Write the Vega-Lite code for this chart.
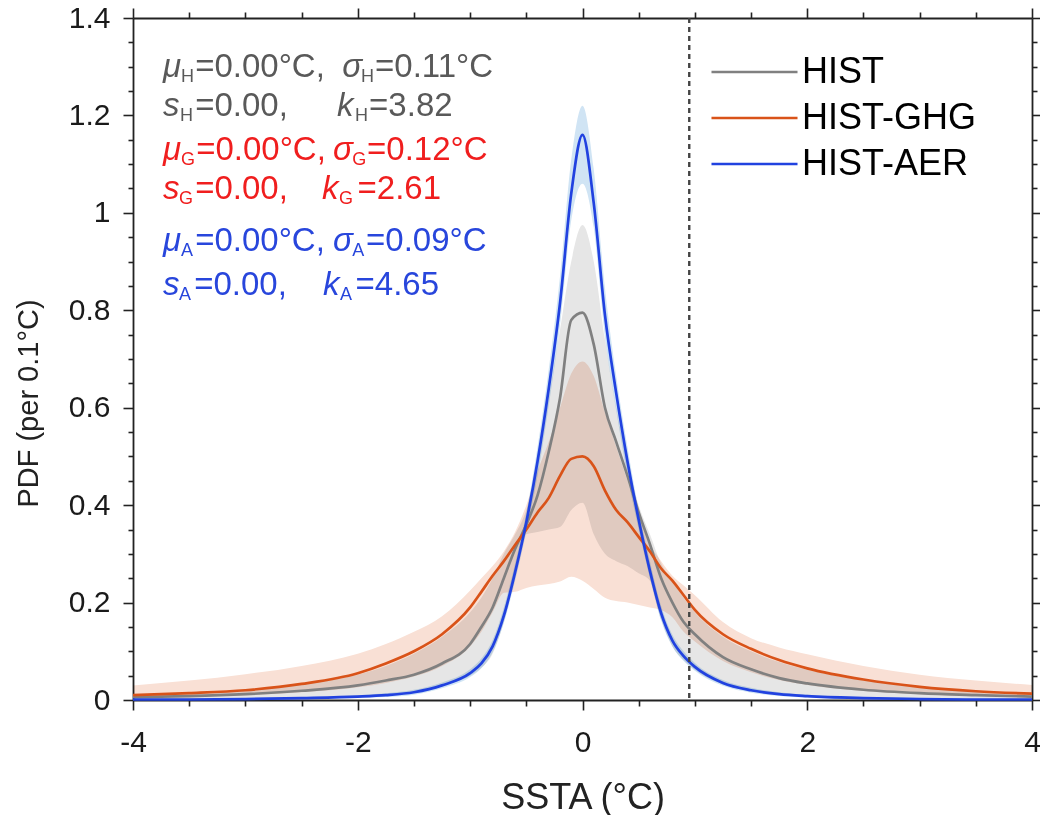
{
  "$schema": "https://vega.github.io/schema/vega-lite/v6.json",
  "width": 899,
  "height": 682,
  "autosize": {"type": "none"},
  "padding": {"left": 133, "top": 18, "right": 8, "bottom": 115},
  "config": {
    "view": {"stroke": null},
    "font": "Liberation Sans",
    "axis": {
      "grid": false,
      "domainColor": "#222222",
      "domainWidth": 1.8,
      "tickColor": "#222222",
      "tickWidth": 1.6,
      "labelFont": "Liberation Sans",
      "titleFont": "Liberation Sans",
      "labelColor": "#1a1a1a",
      "titleColor": "#222222",
      "titleFontWeight": "normal",
      "labelOverlap": false,
      "labelFlush": false
    }
  },
  "datasets": {
    "pdf": [
      {"x":-4,"s":"HIST","y":0.006,"lo":0.001,"hi":0.010},
      {"x":-3.5,"s":"HIST","y":0.008,"lo":0.002,"hi":0.014},
      {"x":-3,"s":"HIST","y":0.012,"lo":0.003,"hi":0.020},
      {"x":-2.5,"s":"HIST","y":0.019,"lo":0.005,"hi":0.032},
      {"x":-2,"s":"HIST","y":0.030,"lo":0.008,"hi":0.052},
      {"x":-1.75,"s":"HIST","y":0.040,"lo":0.012,"hi":0.070},
      {"x":-1.5,"s":"HIST","y":0.052,"lo":0.018,"hi":0.095},
      {"x":-1.25,"s":"HIST","y":0.075,"lo":0.030,"hi":0.130},
      {"x":-1,"s":"HIST","y":0.115,"lo":0.050,"hi":0.180},
      {"x":-0.9,"s":"HIST","y":0.150,"lo":0.066,"hi":0.210},
      {"x":-0.8,"s":"HIST","y":0.190,"lo":0.095,"hi":0.250},
      {"x":-0.7,"s":"HIST","y":0.250,"lo":0.160,"hi":0.300},
      {"x":-0.6,"s":"HIST","y":0.310,"lo":0.255,"hi":0.340},
      {"x":-0.5,"s":"HIST","y":0.360,"lo":0.340,"hi":0.390},
      {"x":-0.4,"s":"HIST","y":0.420,"lo":0.345,"hi":0.480},
      {"x":-0.3,"s":"HIST","y":0.510,"lo":0.350,"hi":0.620},
      {"x":-0.2,"s":"HIST","y":0.620,"lo":0.355,"hi":0.760},
      {"x":-0.1,"s":"HIST","y":0.780,"lo":0.390,"hi":0.900},
      {"x":0,"s":"HIST","y":0.795,"lo":0.405,"hi":0.975},
      {"x":0.1,"s":"HIST","y":0.730,"lo":0.340,"hi":0.900},
      {"x":0.2,"s":"HIST","y":0.600,"lo":0.300,"hi":0.740},
      {"x":0.3,"s":"HIST","y":0.530,"lo":0.285,"hi":0.600},
      {"x":0.4,"s":"HIST","y":0.460,"lo":0.275,"hi":0.490},
      {"x":0.5,"s":"HIST","y":0.385,"lo":0.260,"hi":0.400},
      {"x":0.6,"s":"HIST","y":0.320,"lo":0.245,"hi":0.340},
      {"x":0.7,"s":"HIST","y":0.250,"lo":0.165,"hi":0.280},
      {"x":0.8,"s":"HIST","y":0.200,"lo":0.110,"hi":0.245},
      {"x":0.9,"s":"HIST","y":0.160,"lo":0.082,"hi":0.210},
      {"x":1,"s":"HIST","y":0.135,"lo":0.062,"hi":0.180},
      {"x":1.25,"s":"HIST","y":0.088,"lo":0.032,"hi":0.130},
      {"x":1.5,"s":"HIST","y":0.063,"lo":0.018,"hi":0.100},
      {"x":1.75,"s":"HIST","y":0.045,"lo":0.011,"hi":0.078},
      {"x":2,"s":"HIST","y":0.034,"lo":0.007,"hi":0.062},
      {"x":2.5,"s":"HIST","y":0.021,"lo":0.004,"hi":0.040},
      {"x":3,"s":"HIST","y":0.014,"lo":0.002,"hi":0.026},
      {"x":3.5,"s":"HIST","y":0.010,"lo":0.001,"hi":0.018},
      {"x":4,"s":"HIST","y":0.007,"lo":0.001,"hi":0.013},

      {"x":-4,"s":"HIST-GHG","y":0.010,"lo":0.005,"hi":0.030},
      {"x":-3.5,"s":"HIST-GHG","y":0.014,"lo":0.007,"hi":0.040},
      {"x":-3,"s":"HIST-GHG","y":0.020,"lo":0.010,"hi":0.053},
      {"x":-2.5,"s":"HIST-GHG","y":0.033,"lo":0.016,"hi":0.070},
      {"x":-2,"s":"HIST-GHG","y":0.055,"lo":0.026,"hi":0.095},
      {"x":-1.75,"s":"HIST-GHG","y":0.075,"lo":0.035,"hi":0.115},
      {"x":-1.5,"s":"HIST-GHG","y":0.100,"lo":0.048,"hi":0.140},
      {"x":-1.25,"s":"HIST-GHG","y":0.135,"lo":0.070,"hi":0.172},
      {"x":-1,"s":"HIST-GHG","y":0.190,"lo":0.110,"hi":0.225},
      {"x":-0.9,"s":"HIST-GHG","y":0.222,"lo":0.140,"hi":0.250},
      {"x":-0.8,"s":"HIST-GHG","y":0.255,"lo":0.180,"hi":0.275},
      {"x":-0.7,"s":"HIST-GHG","y":0.285,"lo":0.220,"hi":0.305},
      {"x":-0.6,"s":"HIST-GHG","y":0.318,"lo":0.222,"hi":0.345},
      {"x":-0.5,"s":"HIST-GHG","y":0.350,"lo":0.230,"hi":0.400},
      {"x":-0.4,"s":"HIST-GHG","y":0.385,"lo":0.235,"hi":0.470},
      {"x":-0.3,"s":"HIST-GHG","y":0.415,"lo":0.238,"hi":0.530},
      {"x":-0.2,"s":"HIST-GHG","y":0.460,"lo":0.243,"hi":0.600},
      {"x":-0.1,"s":"HIST-GHG","y":0.495,"lo":0.253,"hi":0.670},
      {"x":0,"s":"HIST-GHG","y":0.500,"lo":0.245,"hi":0.695},
      {"x":0.1,"s":"HIST-GHG","y":0.480,"lo":0.228,"hi":0.665},
      {"x":0.2,"s":"HIST-GHG","y":0.430,"lo":0.210,"hi":0.590},
      {"x":0.3,"s":"HIST-GHG","y":0.390,"lo":0.203,"hi":0.520},
      {"x":0.4,"s":"HIST-GHG","y":0.365,"lo":0.200,"hi":0.450},
      {"x":0.5,"s":"HIST-GHG","y":0.335,"lo":0.195,"hi":0.380},
      {"x":0.6,"s":"HIST-GHG","y":0.305,"lo":0.190,"hi":0.320},
      {"x":0.7,"s":"HIST-GHG","y":0.270,"lo":0.185,"hi":0.285},
      {"x":0.8,"s":"HIST-GHG","y":0.245,"lo":0.170,"hi":0.255},
      {"x":0.9,"s":"HIST-GHG","y":0.215,"lo":0.140,"hi":0.235},
      {"x":1,"s":"HIST-GHG","y":0.185,"lo":0.120,"hi":0.215},
      {"x":1.25,"s":"HIST-GHG","y":0.135,"lo":0.080,"hi":0.160},
      {"x":1.5,"s":"HIST-GHG","y":0.105,"lo":0.057,"hi":0.127},
      {"x":1.75,"s":"HIST-GHG","y":0.082,"lo":0.041,"hi":0.108},
      {"x":2,"s":"HIST-GHG","y":0.065,"lo":0.031,"hi":0.094},
      {"x":2.5,"s":"HIST-GHG","y":0.042,"lo":0.019,"hi":0.070},
      {"x":3,"s":"HIST-GHG","y":0.027,"lo":0.012,"hi":0.052},
      {"x":3.5,"s":"HIST-GHG","y":0.018,"lo":0.008,"hi":0.040},
      {"x":4,"s":"HIST-GHG","y":0.013,"lo":0.006,"hi":0.031},

      {"x":-4,"s":"HIST-AER","y":0.001,"lo":0.000,"hi":0.002},
      {"x":-3.5,"s":"HIST-AER","y":0.001,"lo":0.000,"hi":0.003},
      {"x":-3,"s":"HIST-AER","y":0.002,"lo":0.001,"hi":0.004},
      {"x":-2.5,"s":"HIST-AER","y":0.004,"lo":0.002,"hi":0.006},
      {"x":-2,"s":"HIST-AER","y":0.007,"lo":0.004,"hi":0.010},
      {"x":-1.75,"s":"HIST-AER","y":0.010,"lo":0.006,"hi":0.014},
      {"x":-1.5,"s":"HIST-AER","y":0.016,"lo":0.011,"hi":0.021},
      {"x":-1.25,"s":"HIST-AER","y":0.030,"lo":0.024,"hi":0.036},
      {"x":-1,"s":"HIST-AER","y":0.055,"lo":0.047,"hi":0.063},
      {"x":-0.9,"s":"HIST-AER","y":0.075,"lo":0.065,"hi":0.085},
      {"x":-0.8,"s":"HIST-AER","y":0.110,"lo":0.098,"hi":0.123},
      {"x":-0.7,"s":"HIST-AER","y":0.173,"lo":0.158,"hi":0.190},
      {"x":-0.6,"s":"HIST-AER","y":0.262,"lo":0.245,"hi":0.280},
      {"x":-0.5,"s":"HIST-AER","y":0.365,"lo":0.345,"hi":0.385},
      {"x":-0.4,"s":"HIST-AER","y":0.490,"lo":0.460,"hi":0.520},
      {"x":-0.3,"s":"HIST-AER","y":0.640,"lo":0.605,"hi":0.680},
      {"x":-0.2,"s":"HIST-AER","y":0.815,"lo":0.770,"hi":0.870},
      {"x":-0.1,"s":"HIST-AER","y":1.040,"lo":0.985,"hi":1.110},
      {"x":0,"s":"HIST-AER","y":1.160,"lo":1.060,"hi":1.220},
      {"x":0.1,"s":"HIST-AER","y":1.020,"lo":0.970,"hi":1.090},
      {"x":0.2,"s":"HIST-AER","y":0.790,"lo":0.745,"hi":0.845},
      {"x":0.3,"s":"HIST-AER","y":0.630,"lo":0.595,"hi":0.665},
      {"x":0.4,"s":"HIST-AER","y":0.490,"lo":0.460,"hi":0.520},
      {"x":0.5,"s":"HIST-AER","y":0.370,"lo":0.350,"hi":0.390},
      {"x":0.6,"s":"HIST-AER","y":0.265,"lo":0.250,"hi":0.285},
      {"x":0.7,"s":"HIST-AER","y":0.178,"lo":0.163,"hi":0.193},
      {"x":0.8,"s":"HIST-AER","y":0.122,"lo":0.110,"hi":0.134},
      {"x":0.9,"s":"HIST-AER","y":0.090,"lo":0.080,"hi":0.100},
      {"x":1,"s":"HIST-AER","y":0.068,"lo":0.060,"hi":0.076},
      {"x":1.25,"s":"HIST-AER","y":0.035,"lo":0.029,"hi":0.041},
      {"x":1.5,"s":"HIST-AER","y":0.020,"lo":0.015,"hi":0.025},
      {"x":1.75,"s":"HIST-AER","y":0.012,"lo":0.008,"hi":0.016},
      {"x":2,"s":"HIST-AER","y":0.008,"lo":0.005,"hi":0.011},
      {"x":2.5,"s":"HIST-AER","y":0.004,"lo":0.002,"hi":0.006},
      {"x":3,"s":"HIST-AER","y":0.002,"lo":0.001,"hi":0.004},
      {"x":3.5,"s":"HIST-AER","y":0.001,"lo":0.000,"hi":0.002},
      {"x":4,"s":"HIST-AER","y":0.001,"lo":0.000,"hi":0.002}
    ],
    "ann": [
      {"k":"sym","g":"H","t":"μ","x":-3.732,"y":1.2786},
      {"k":"sub","g":"H","t":"H","x":-3.572,"y":1.2786},
      {"k":"txt","g":"H","t":"=0.00°C,","x":-3.447,"y":1.2786},
      {"k":"sym","g":"H","t":"σ","x":-2.139,"y":1.2786},
      {"k":"sub","g":"H","t":"H","x":-1.970,"y":1.2786},
      {"k":"txt","g":"H","t":"=0.11°C","x":-1.846,"y":1.2786},

      {"k":"sym","g":"H","t":"s","x":-3.732,"y":1.1992},
      {"k":"sub","g":"H","t":"H","x":-3.581,"y":1.1992},
      {"k":"txt","g":"H","t":"=0.00,","x":-3.447,"y":1.1992},
      {"k":"sym","g":"H","t":"k","x":-2.184,"y":1.1992},
      {"k":"sub","g":"H","t":"H","x":-2.024,"y":1.1992},
      {"k":"txt","g":"H","t":"=3.82","x":-1.899,"y":1.1992},

      {"k":"sym","g":"G","t":"μ","x":-3.732,"y":1.1088},
      {"k":"sub","g":"G","t":"G","x":-3.572,"y":1.1088},
      {"k":"txt","g":"G","t":"=0.00°C,","x":-3.438,"y":1.1088},
      {"k":"sym","g":"G","t":"σ","x":-2.220,"y":1.1088},
      {"k":"sub","g":"G","t":"G","x":-2.050,"y":1.1088},
      {"k":"txt","g":"G","t":"=0.12°C","x":-1.917,"y":1.1088},

      {"k":"sym","g":"G","t":"s","x":-3.732,"y":1.0277},
      {"k":"sub","g":"G","t":"G","x":-3.590,"y":1.0277},
      {"k":"txt","g":"G","t":"=0.00,","x":-3.447,"y":1.0277},
      {"k":"sym","g":"G","t":"k","x":-2.318,"y":1.0277},
      {"k":"sub","g":"G","t":"G","x":-2.166,"y":1.0277},
      {"k":"txt","g":"G","t":"=2.61","x":-2.002,"y":1.0277},

      {"k":"sym","g":"A","t":"μ","x":-3.732,"y":0.9209},
      {"k":"sub","g":"A","t":"A","x":-3.572,"y":0.9209},
      {"k":"txt","g":"A","t":"=0.00°C,","x":-3.447,"y":0.9209},
      {"k":"sym","g":"A","t":"σ","x":-2.220,"y":0.9209},
      {"k":"sub","g":"A","t":"A","x":-2.050,"y":0.9209},
      {"k":"txt","g":"A","t":"=0.09°C","x":-1.926,"y":0.9209},

      {"k":"sym","g":"A","t":"s","x":-3.732,"y":0.8316},
      {"k":"sub","g":"A","t":"A","x":-3.590,"y":0.8316},
      {"k":"txt","g":"A","t":"=0.00,","x":-3.456,"y":0.8316},
      {"k":"sym","g":"A","t":"k","x":-2.309,"y":0.8316},
      {"k":"sub","g":"A","t":"A","x":-2.157,"y":0.8316},
      {"k":"txt","g":"A","t":"=4.65","x":-2.020,"y":0.8316}
    ],
    "ref": [{"x": 0.95}]
  },
  "layer": [
    {
      "data": {"name": "pdf"},
      "mark": {"type": "area", "interpolate": "monotone", "blend": "multiply", "fillOpacity": 1},
      "encoding": {
        "x": {
          "field": "x", "type": "quantitative",
          "scale": {"domain": [-4, 4], "nice": false, "zero": false},
          "axis": {
            "orient": "bottom",
            "values": [-4,-3.5,-3,-2.5,-2,-1.5,-1,-0.5,0,0.5,1,1.5,2,2.5,3,3.5,4],
            "labelExpr": "datum.value % 2 === 0 ? '' + datum.value : ''",
            "tickSize": {"condition": {"test": "datum.value % 2 === 0", "value": 10}, "value": 6},
            "labelFontSize": 30,
            "labelPadding": 17,
            "title": "SSTA (°C)",
            "titleFontSize": 36,
            "titleBaseline": "alphabetic",
            "titleY": 108
          }
        },
        "y": {
          "field": "lo", "type": "quantitative",
          "scale": {"domain": [0, 1.4], "nice": false, "zero": false},
          "axis": {
            "orient": "left",
            "values": [0,0.05,0.1,0.15,0.2,0.25,0.3,0.35,0.4,0.45,0.5,0.55,0.6,0.65,0.7,0.75,0.8,0.85,0.9,0.95,1,1.05,1.1,1.15,1.2,1.25,1.3,1.35,1.4],
            "labelExpr": "round(datum.value*100) % 20 === 0 ? '' + round(datum.value*10)/10 : ''",
            "tickSize": {"condition": {"test": "round(datum.value*100) % 20 === 0", "value": 10}, "value": 5},
            "labelFontSize": 30,
            "labelPadding": 13,
            "title": "PDF (per 0.1°C)",
            "titleFontSize": 29,
            "titleX": -90,
            "titleY": 385
          }
        },
        "y2": {"field": "hi"},
        "fill": {
          "field": "s", "type": "nominal",
          "scale": {"domain": ["HIST", "HIST-GHG", "HIST-AER"], "range": ["#e6e6e6", "#f9e0d5", "#d0e4f4"]},
          "legend": null
        }
      }
    },
    {
      "data": {"name": "pdf"},
      "mark": {"type": "line", "interpolate": "monotone", "strokeWidth": 2.7},
      "encoding": {
        "x": {
          "field": "x", "type": "quantitative",
          "scale": {"domain": [-4, 4], "nice": false, "zero": false},
          "axis": {
            "orient": "top",
            "values": [-4,-3.5,-3,-2.5,-2,-1.5,-1,-0.5,0,0.5,1,1.5,2,2.5,3,3.5,4],
            "labels": false,
            "tickSize": {"condition": {"test": "datum.value % 2 === 0", "value": 10}, "value": 6},
            "title": null
          }
        },
        "y": {
          "field": "y", "type": "quantitative",
          "scale": {"domain": [0, 1.4], "nice": false, "zero": false},
          "axis": {
            "orient": "right",
            "values": [0,0.05,0.1,0.15,0.2,0.25,0.3,0.35,0.4,0.45,0.5,0.55,0.6,0.65,0.7,0.75,0.8,0.85,0.9,0.95,1,1.05,1.1,1.15,1.2,1.25,1.3,1.35,1.4],
            "labels": false,
            "tickSize": {"condition": {"test": "round(datum.value*100) % 20 === 0", "value": 10}, "value": 5},
            "title": null
          }
        },
        "stroke": {
          "field": "s", "type": "nominal",
          "scale": {"domain": ["HIST", "HIST-GHG", "HIST-AER"], "range": ["#808080", "#d95319", "#2142e0"]},
          "legend": {
            "orient": "none",
            "legendX": 577,
            "legendY": 36,
            "title": null,
            "symbolType": "stroke",
            "symbolSize": 7400,
            "symbolStrokeWidth": 2.6,
            "clipHeight": 36,
            "labelFontSize": 36,
            "labelFont": "Liberation Sans",
            "labelColor": "#000000",
            "labelLimit": 400,
            "labelOffset": 3,
            "rowPadding": 10,
            "padding": 0
          }
        }
      }
    },
    {
      "data": {"name": "ref"},
      "mark": {"type": "rule", "strokeDash": [5, 4], "color": "#444444", "strokeWidth": 2.4},
      "encoding": {
        "x": {"field": "x", "type": "quantitative", "scale": {"domain": [-4, 4], "nice": false, "zero": false}, "axis": null}
      }
    },
    {
      "data": {"name": "ann"},
      "transform": [{"filter": "datum.k === 'sym'"}],
      "mark": {"type": "text", "align": "left", "baseline": "alphabetic", "fontSize": 33, "fontStyle": "italic", "font": "Liberation Sans"},
      "encoding": {
        "x": {"field": "x", "type": "quantitative", "scale": {"domain": [-4, 4], "nice": false, "zero": false}, "axis": null},
        "y": {"field": "y", "type": "quantitative", "scale": {"domain": [0, 1.4], "nice": false, "zero": false}, "axis": null},
        "text": {"field": "t"},
        "fill": {"field": "g", "type": "nominal", "scale": {"domain": ["H", "G", "A"], "range": ["#595959", "#f01e1e", "#2846dc"]}, "legend": null}
      }
    },
    {
      "data": {"name": "ann"},
      "transform": [{"filter": "datum.k === 'sub'"}],
      "mark": {"type": "text", "align": "left", "baseline": "alphabetic", "fontSize": 18, "dy": 5, "font": "Liberation Sans"},
      "encoding": {
        "x": {"field": "x", "type": "quantitative", "scale": {"domain": [-4, 4], "nice": false, "zero": false}, "axis": null},
        "y": {"field": "y", "type": "quantitative", "scale": {"domain": [0, 1.4], "nice": false, "zero": false}, "axis": null},
        "text": {"field": "t"},
        "fill": {"field": "g", "type": "nominal", "scale": {"domain": ["H", "G", "A"], "range": ["#595959", "#f01e1e", "#2846dc"]}, "legend": null}
      }
    },
    {
      "data": {"name": "ann"},
      "transform": [{"filter": "datum.k === 'txt'"}],
      "mark": {"type": "text", "align": "left", "baseline": "alphabetic", "fontSize": 33, "font": "Liberation Sans"},
      "encoding": {
        "x": {"field": "x", "type": "quantitative", "scale": {"domain": [-4, 4], "nice": false, "zero": false}, "axis": null},
        "y": {"field": "y", "type": "quantitative", "scale": {"domain": [0, 1.4], "nice": false, "zero": false}, "axis": null},
        "text": {"field": "t"},
        "fill": {"field": "g", "type": "nominal", "scale": {"domain": ["H", "G", "A"], "range": ["#595959", "#f01e1e", "#2846dc"]}, "legend": null}
      }
    }
  ],
  "resolve": {
    "scale": {"fill": "independent"},
    "axis": {"x": "independent", "y": "independent"}
  }
}
